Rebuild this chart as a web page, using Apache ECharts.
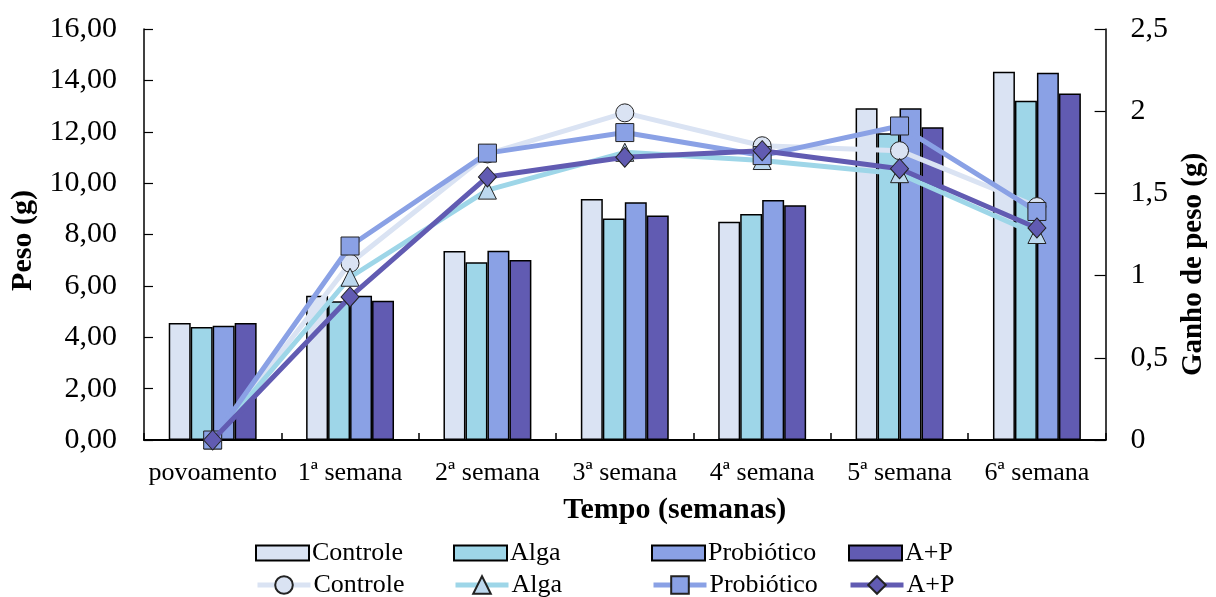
<!DOCTYPE html>
<html>
<head>
<meta charset="utf-8">
<script src="https://cdn.jsdelivr.net/npm/echarts@6/dist/echarts.min.js"></script>
<style>
html,body{margin:0;padding:0;background:#fff;}
#chart{width:1216px;height:597px;}
</style>
</head>
<body>
<div id="chart"></div>
<script>
const categories = ['povoamento', '1ª semana', '2ª semana', '3ª semana', '4ª semana', '5ª semana', '6ª semana'];

// Peso (g) - bars, left axis
const pesoControle    = [4.55, 5.62, 7.36, 9.38, 8.50, 12.91, 14.34];
const pesoAlga        = [4.40, 5.40, 6.92, 8.62, 8.80, 11.94, 13.21];
const pesoProbiotico  = [4.45, 5.62, 7.37, 9.26, 9.34, 12.91, 14.30];
const pesoAP          = [4.55, 5.42, 7.01, 8.74, 9.14, 12.18, 13.49];

// Ganho de peso (g) - lines, right axis
const ganhoControle   = [0, 1.075, 1.74, 1.99, 1.79, 1.76, 1.42];
const ganhoAlga       = [0, 0.99, 1.52, 1.75, 1.70, 1.62, 1.25];
const ganhoProbiotico = [0, 1.18, 1.745, 1.87, 1.73, 1.91, 1.39];
const ganhoAP         = [0, 0.87, 1.60, 1.72, 1.76, 1.65, 1.29];

const treatments = ['Controle', 'Alga', 'Probiótico', 'A+P'];

const FONT = "'Liberation Serif', 'Times New Roman', serif";
const colors = {
  'Controle': '#DAE3F3',
  'Alga': '#9ED6E8',
  'Probiótico': '#8AA1E5',
  'A+P': '#615BB2'
};
const markerFill = {
  'Controle': '#DAE3F3',
  'Alga': '#BCD8EE',
  'Probiótico': '#8AA1E5',
  'A+P': '#615BB2'
};
const markerShape = {
  'Controle': 'circle',
  'Alga': 'triangle',
  'Probiótico': 'rect',
  'A+P': 'diamond'
};
const markerSize = {
  'Controle': 18,
  'Alga': [18, 18],
  'Probiótico': 18,
  'A+P': [18, 20]
};
const pesoData = [pesoControle, pesoAlga, pesoProbiotico, pesoAP];
const ganhoData = [ganhoControle, ganhoAlga, ganhoProbiotico, ganhoAP];

const series = [];
treatments.forEach((t, i) => {
  series.push({
    name: t + ' (peso)',
    type: 'bar',
    yAxisIndex: 0,
    data: pesoData[i],
    barGap: '0%',
    barCategoryGap: '36%',
    itemStyle: { color: colors[t], borderColor: '#000', borderWidth: 1.5 },
    z: 2
  });
});
treatments.forEach((t, i) => {
  series.push({
    name: t + ' (ganho)',
    type: 'line',
    yAxisIndex: 1,
    data: ganhoData[i],
    symbol: markerShape[t],
    symbolSize: markerSize[t],
    showAllSymbol: true,
    lineStyle: { color: colors[t], width: 5 },
    itemStyle: { color: markerFill[t], borderColor: '#222', borderWidth: 1 },
    z: 5 + i
  });
});

const legendX = [255, 453, 651, 848];
const legends = [];
treatments.forEach((t, i) => {
  legends.push({
    data: [t + ' (peso)'],
    left: legendX[i],
    top: 540,
    padding: 0,
    icon: 'rect',
    itemWidth: 53,
    itemHeight: 15,
    itemGap: 0,
    selectedMode: false,
    formatter: () => t,
    textStyle: { fontFamily: FONT, fontSize: 26, color: '#000', padding: [0, 0, 0, -2] }
  });
  legends.push({
    data: [t + ' (ganho)'],
    left: legendX[i],
    top: 572,
    padding: 0,
    itemWidth: 53,
    itemHeight: 22,
    itemGap: 0,
    selectedMode: false,
    lineStyle: { width: 5, color: colors[t] },
    formatter: () => t,
    textStyle: { fontFamily: FONT, fontSize: 26, color: '#000', padding: [0, 0, 0, -2] }
  });
});

const chart = echarts.init(document.getElementById('chart'), null, { renderer: 'canvas' });
chart.setOption({
  animation: false,
  backgroundColor: '#fff',
  grid: { left: 144, right: 100, top: 29, bottom: 157, containLabel: false },
  legend: legends,
  xAxis: {
    type: 'category',
    data: categories,
    name: 'Tempo (semanas)',
    nameLocation: 'middle',
    nameGap: 55,
    nameTextStyle: { fontFamily: FONT, fontSize: 30, fontWeight: 'bold', color: '#000', padding: [0, 0, 0, 100] },
    axisLine: { lineStyle: { color: '#000', width: 2 } },
    axisTick: { show: true, inside: true, length: 7, lineStyle: { color: '#000', width: 1.5 } },
    axisLabel: { fontFamily: FONT, fontSize: 26, color: '#000', margin: 20, interval: 0 },
    splitLine: { show: false }
  },
  yAxis: [
    {
      type: 'value',
      min: 0, max: 16, interval: 2,
      name: 'Peso (g)',
      nameLocation: 'middle',
      nameGap: 100,
      nameTextStyle: { fontFamily: FONT, fontSize: 30, fontWeight: 'bold', color: '#000', padding: [0, 12, 0, 0] },
      axisLine: { show: true, lineStyle: { color: '#000', width: 1.5 } },
      axisTick: { show: true, inside: true, length: 9, lineStyle: { color: '#000', width: 1.2 } },
      axisLabel: { fontFamily: FONT, fontSize: 30, color: '#000', margin: 27,
        formatter: v => v.toFixed(2).replace('.', ',') },
      splitLine: { show: false }
    },
    {
      type: 'value',
      min: 0, max: 2.5, interval: 0.5,
      name: 'Ganho de peso (g)',
      nameLocation: 'middle',
      nameGap: 68,
      nameTextStyle: { fontFamily: FONT, fontSize: 29, fontWeight: 'bold', color: '#000', padding: [0, 60, 0, 0] },
      axisLine: { show: true, lineStyle: { color: '#000', width: 1.5 } },
      axisTick: { show: true, inside: true, length: 11, lineStyle: { color: '#000', width: 1.2 } },
      axisLabel: { fontFamily: FONT, fontSize: 30, color: '#000', margin: 25,
        formatter: v => String(v).replace('.', ',') },
      splitLine: { show: false }
    }
  ],
  series: series
});
</script>
</body>
</html>
